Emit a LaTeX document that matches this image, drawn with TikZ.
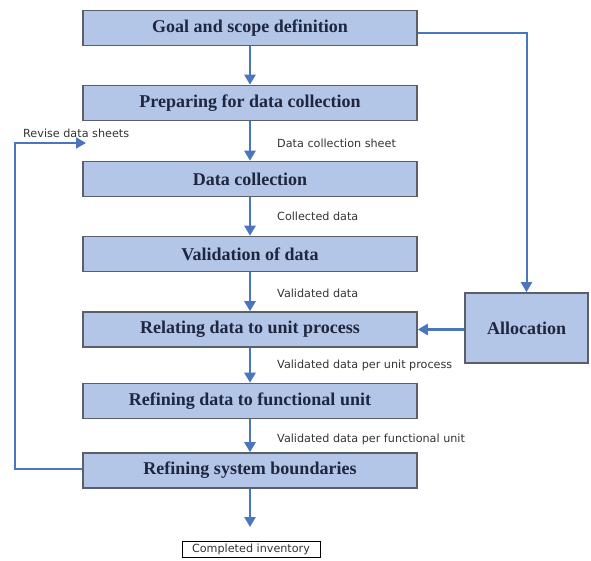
\documentclass[tikz,border=0pt]{standalone}
\usepackage{fontspec}
\setmainfont{Liberation Serif}
\setsansfont{DejaVu Sans}
\usetikzlibrary{arrows.meta}
\definecolor{boxfill}{HTML}{B4C6E7}
\definecolor{boxline}{HTML}{5A5F6A}
\definecolor{flow}{HTML}{4A76C0}
\definecolor{boxtext}{HTML}{1E2640}
\definecolor{lbltext}{HTML}{333333}
\begin{document}
\begin{tikzpicture}[x=1pt,y=-1pt,
  stepbox/.style={draw=boxline, line width=1.6pt, fill=boxfill, minimum width=334pt, minimum height=35pt, inner sep=0pt, font=\bfseries\fontsize{18}{20}\selectfont, text=boxtext},
  flowarrow/.style={draw=flow, line width=2.6pt, -{Triangle[length=10pt,width=11pt]}},
  lbl/.style={font=\sffamily\fontsize{11.2}{13}\selectfont, text=lbltext, anchor=west, inner sep=0pt}]
\useasboundingbox (0,0) rectangle (591,560);
\node[stepbox] (goal) at (250,28) {Goal and scope definition};
\node[stepbox] (prep) at (250,103) {Preparing for data collection};
\node[stepbox] (coll) at (250,179) {Data collection};
\node[stepbox] (valid) at (250,254) {Validation of data};
\node[stepbox] (rel) at (250,329.5) {Relating data to unit process};
\node[stepbox] (reffu) at (250,401) {Refining data to functional unit};
\node[stepbox] (refsb) at (250,470.5) {Refining system boundaries};
\node[stepbox, minimum width=123pt, minimum height=70pt] (alloc) at (526.5,328) {Allocation};
\node[draw=black, line width=0.6pt, fill=white, minimum width=138pt, minimum height=16pt, inner sep=0pt, font=\sffamily\fontsize{11.2}{13}\selectfont, text=lbltext] (inv) at (251,549) {Completed inventory};
\coordinate (invtop) at (250,527);
\draw[flowarrow] (goal.south) -- (prep.north);
\draw[flowarrow] (prep.south) -- (coll.north);
\draw[flowarrow] (coll.south) -- (valid.north);
\draw[flowarrow] (valid.south) -- (rel.north);
\draw[flowarrow] (rel.south) -- (reffu.north);
\draw[flowarrow] (reffu.south) -- (refsb.north);
\draw[flowarrow] (refsb.south) -- (invtop);
\coordinate (gr) at (527,33);
\draw[flowarrow, line width=2pt] (goal.east |- gr) -| (alloc.north);
\draw[flowarrow] (alloc.west |- rel.east) -- (rel.east);
\coordinate (fbtop) at (15,143);
\coordinate (fbend) at (86,143);
\draw[flowarrow, line width=2pt] (refsb.west |- 0,469) -| (fbtop) -- (fbend);
\node[lbl] (l0) at (23,133) {Revise data sheets};
\node[lbl] (l1) at (277,143) {Data collection sheet};
\node[lbl] (l2) at (277,216) {Collected data};
\node[lbl] (l3) at (277,293) {Validated data};
\node[lbl] (l4) at (277,365) {Validated data per unit process};
\node[lbl] (l5) at (277,439) {Validated data per functional unit};
\end{tikzpicture}
\end{document}
